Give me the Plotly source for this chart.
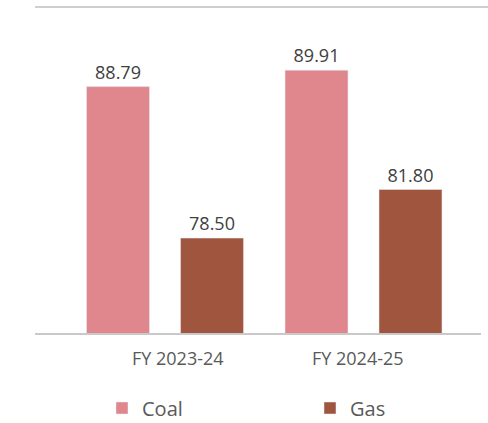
import plotly.graph_objects as go

categories = ["FY 2023-24", "FY 2024-25"]
coal = [88.79, 89.91]
gas = [78.50, 81.80]

COAL_COLOR = "#E0878D"
GAS_COLOR = "#A0553E"
FONT = "Open Sans"

fig = go.Figure()
fig.add_trace(go.Bar(
    name="Coal", x=categories, y=coal, marker_color=COAL_COLOR,
    text=[f"{v:.2f}" for v in coal], textposition="outside",
    textfont=dict(size=18, color="#404040", family=FONT),
    cliponaxis=False, constraintext="none", legend="legend",
))
fig.add_trace(go.Bar(
    name="Gas", x=categories, y=gas, marker_color=GAS_COLOR,
    text=[f"{v:.2f}" for v in gas], textposition="outside",
    textfont=dict(size=18, color="#404040", family=FONT),
    cliponaxis=False, constraintext="none", legend="legend2",
))

W, H = 488, 423
ml, mr, mt, mb = 35, 7, 7, 90
pw = W - ml - mr

# category label shifts (style)
label_shift = [13, -6]
annotations = []
for c, s in zip(categories, label_shift):
    annotations.append(dict(
        x=c, xref="x", y=0, yref="paper", yanchor="middle", xanchor="center",
        yshift=-25, xshift=s, text=c, showarrow=False,
        font=dict(size=18, color="#595959", family=FONT),
    ))

fig.update_layout(
    width=W, height=H,
    margin=dict(l=ml, r=mr, t=mt, b=mb, autoexpand=False),
    paper_bgcolor="white", plot_bgcolor="white",
    barmode="group", bargap=0.053, bargroupgap=0.33,
    font=dict(family=FONT, color="#595959"),
    xaxis=dict(
        range=[-0.655, 1.592], showticklabels=False, ticks="",
        showline=True, linecolor="#C9C9C9", linewidth=2, showgrid=False,
        zeroline=False,
    ),
    yaxis=dict(
        range=[72.05, 94.2], visible=False, showgrid=False, zeroline=False,
    ),
    annotations=annotations,
    shapes=[dict(
        type="line", xref="paper", yref="paper",
        x0=0, x1=(W - ml) / pw, y0=1, y1=1,
        line=dict(color="#CFCFCF", width=2),
    )],
    legend=dict(
        x=(102 - ml) / pw, xanchor="left", y=(333 - 408) / 326, yanchor="middle",
        orientation="h", font=dict(size=20, color="#595959", family=FONT),
        bgcolor="rgba(0,0,0,0)", itemclick=False,
    ),
    legend2=dict(
        x=(310 - ml) / pw, xanchor="left", y=(333 - 408) / 326, yanchor="middle",
        orientation="h", font=dict(size=20, color="#595959", family=FONT),
        bgcolor="rgba(0,0,0,0)", itemclick=False,
    ),
    showlegend=True,
)

fig.write_html(
    "out.html",
    config={"displayModeBar": False},
    post_script="document.body.style.margin='0';document.body.style.padding='0';",
)
